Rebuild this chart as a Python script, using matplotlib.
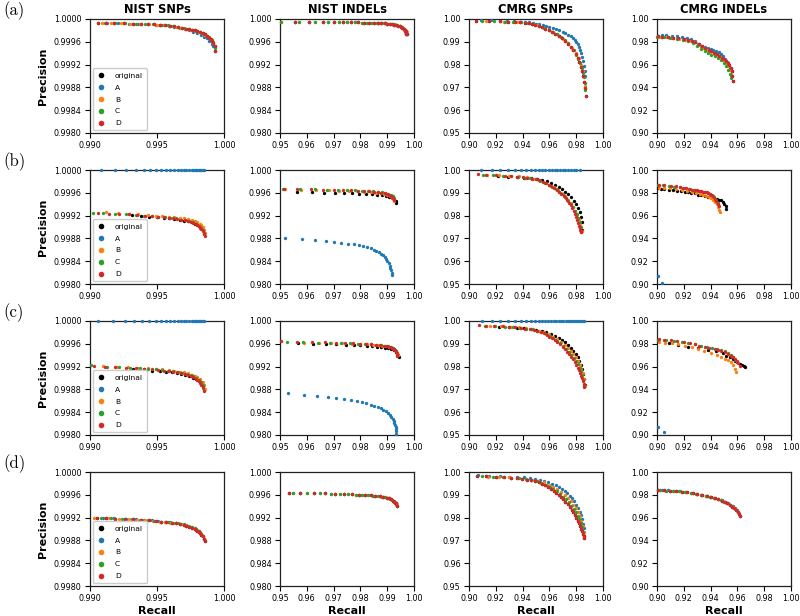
import matplotlib
matplotlib.use('Agg')
import numpy as np
import matplotlib.pyplot as plt
from matplotlib.lines import Line2D
from matplotlib.ticker import FormatStrFormatter

series_names = ['original', 'A', 'B', 'C', 'D']
series_colors = ['black', 'tab:blue', 'tab:orange', 'tab:green', 'tab:red']
column_titles = ['NIST SNPs', 'NIST INDELs', 'CMRG SNPs', 'CMRG INDELs']
row_labels = ['(a)', '(b)', '(c)', '(d)']

# ---------------- row (a) ----------------
a_nsnp_D_r = [0.9906, 0.9912, 0.9918, 0.9925, 0.9932, 0.9938, 0.9943, 0.9948, 0.9952, 0.9956, 0.9960, 0.9963, 0.9966, 0.9969, 0.9972, 0.9974, 0.9976, 0.9978, 0.9980, 0.9982, 0.9984, 0.9986, 0.9987, 0.9988, 0.9989, 0.9990, 0.9991, 0.9992, 0.9993, 0.99935]
a_nsnp_D_p = [0.99993, 0.99993, 0.99993, 0.99993, 0.99992, 0.99992, 0.99991, 0.99991, 0.99990, 0.99989, 0.99988, 0.99987, 0.99986, 0.99985, 0.99983, 0.99982, 0.99981, 0.99980, 0.99979, 0.99977, 0.99975, 0.99973, 0.99971, 0.99969, 0.99967, 0.99965, 0.99962, 0.99958, 0.99952, 0.99944]
a_nsnp_C_r = [0.9911, 0.9919, 0.9926, 0.9934, 0.9941, 0.9947, 0.9953, 0.9958, 0.9962, 0.9966, 0.9970, 0.9973, 0.9976, 0.9979, 0.9982, 0.9985, 0.9987, 0.9989, 0.9991, 0.9992, 0.9993]
a_nsnp_C_p = [0.99993, 0.99993, 0.99993, 0.99992, 0.99991, 0.99991, 0.99990, 0.99989, 0.99988, 0.99986, 0.99984, 0.99983, 0.99981, 0.99979, 0.99977, 0.99974, 0.99971, 0.99968, 0.99964, 0.99959, 0.99950]
a_nsnp_B_r = [0.9909, 0.9916, 0.9923, 0.9930, 0.9937, 0.9944, 0.9950, 0.9955, 0.9959, 0.9964, 0.9968, 0.9971, 0.9975, 0.9978, 0.9981, 0.9984, 0.9986, 0.9988, 0.9990, 0.9992]
a_nsnp_B_p = [0.99993, 0.99993, 0.99993, 0.99992, 0.99992, 0.99991, 0.99990, 0.99989, 0.99988, 0.99986, 0.99985, 0.99983, 0.99981, 0.99979, 0.99977, 0.99974, 0.99972, 0.99969, 0.99965, 0.99958]
a_nsnp_A_r = [0.9913, 0.9921, 0.9929, 0.9936, 0.9943, 0.9949, 0.9954, 0.9959, 0.9963, 0.9967, 0.9971, 0.9974, 0.9977, 0.9980, 0.9983, 0.9985, 0.9987, 0.9989, 0.9991, 0.9992, 0.9993]
a_nsnp_A_p = [0.99993, 0.99993, 0.99992, 0.99992, 0.99991, 0.99990, 0.99989, 0.99987, 0.99986, 0.99984, 0.99982, 0.99980, 0.99978, 0.99975, 0.99972, 0.99969, 0.99966, 0.99962, 0.99957, 0.99952, 0.99943]

a_nind_D_r = [0.9555, 0.9610, 0.9660, 0.9700, 0.9735, 0.9765, 0.9790, 0.9812, 0.9832, 0.9850, 0.9865, 0.9878, 0.9890, 0.9900, 0.9910, 0.9919, 0.9927, 0.9934, 0.9941, 0.9947, 0.9952, 0.9957, 0.9961, 0.9963, 0.9965, 0.9967, 0.9969, 0.9970, 0.9971, 0.9972, 0.9973]
a_nind_D_p = [0.99945, 0.99945, 0.99944, 0.99943, 0.99942, 0.99941, 0.99940, 0.99938, 0.99936, 0.99934, 0.99931, 0.99928, 0.99925, 0.99921, 0.99916, 0.99910, 0.99903, 0.99895, 0.99885, 0.99873, 0.99860, 0.99845, 0.99828, 0.99819, 0.99810, 0.99797, 0.99782, 0.99772, 0.99760, 0.99745, 0.99730]
a_nind_C_r = [0.9502, 0.9570, 0.9630, 0.9680, 0.9720, 0.9750, 0.9780, 0.9805, 0.9825, 0.9845, 0.9862, 0.9876, 0.9888, 0.9900, 0.9912, 0.9925, 0.9937, 0.9948, 0.9957, 0.9964, 0.9970]
a_nind_C_p = [0.99950, 0.99945, 0.99944, 0.99943, 0.99942, 0.99941, 0.99940, 0.99938, 0.99936, 0.99934, 0.99932, 0.99929, 0.99926, 0.99921, 0.99914, 0.99904, 0.99891, 0.99874, 0.99852, 0.99826, 0.99790]

a_csnp_D_r = [0.9055, 0.9150, 0.9230, 0.9290, 0.9340, 0.9380, 0.9415, 0.9445, 0.9470, 0.9495, 0.9520, 0.9545, 0.9570, 0.9595, 0.9620, 0.9645, 0.9670, 0.9695, 0.9720, 0.9740, 0.9760, 0.9778, 0.9795, 0.9810, 0.9823, 0.9835, 0.9845, 0.9853, 0.9860, 0.9865, 0.9870]
a_csnp_D_p = [0.9993, 0.9991, 0.9990, 0.9988, 0.9987, 0.9985, 0.9983, 0.9981, 0.9978, 0.9974, 0.9969, 0.9963, 0.9957, 0.9950, 0.9942, 0.9934, 0.9925, 0.9915, 0.9903, 0.9891, 0.9877, 0.9862, 0.9846, 0.9828, 0.9810, 0.9790, 0.9770, 0.9748, 0.9725, 0.9697, 0.9663]
a_csnp_C_r = [0.9095, 0.9190, 0.9270, 0.9330, 0.9390, 0.9440, 0.9485, 0.9525, 0.9560, 0.9595, 0.9630, 0.9660, 0.9690, 0.9715, 0.9740, 0.9762, 0.9782, 0.9800, 0.9815, 0.9828, 0.9840, 0.9850, 0.9858, 0.9865, 0.9869]
a_csnp_C_p = [0.9991, 0.9990, 0.9988, 0.9987, 0.9985, 0.9982, 0.9977, 0.9971, 0.9962, 0.9953, 0.9943, 0.9933, 0.9921, 0.9909, 0.9894, 0.9879, 0.9862, 0.9844, 0.9826, 0.9808, 0.9787, 0.9765, 0.9745, 0.9720, 0.9690]
a_csnp_B_r = [0.9125, 0.9260, 0.9360, 0.9440, 0.9510, 0.9570, 0.9620, 0.9665, 0.9705, 0.9740, 0.9770, 0.9795, 0.9818, 0.9838, 0.9853, 0.9865]
a_csnp_B_p = [0.9990, 0.9988, 0.9986, 0.9983, 0.9973, 0.9958, 0.9944, 0.9929, 0.9912, 0.9893, 0.9873, 0.9851, 0.9827, 0.9800, 0.9770, 0.9705]
a_csnp_A_r = [0.9090, 0.9165, 0.9230, 0.9285, 0.9335, 0.9380, 0.9415, 0.9445, 0.9475, 0.9500, 0.9525, 0.9550, 0.9575, 0.9600, 0.9625, 0.9650, 0.9675, 0.9700, 0.9720, 0.9740, 0.9760, 0.9775, 0.9790, 0.9800, 0.9810, 0.9820, 0.9828, 0.9836, 0.9843, 0.9850, 0.9856, 0.9862, 0.9866]
a_csnp_A_p = [0.9995, 0.9994, 0.9992, 0.9991, 0.9990, 0.9989, 0.9988, 0.9986, 0.9983, 0.9980, 0.9977, 0.9973, 0.9969, 0.9965, 0.9961, 0.9956, 0.9950, 0.9944, 0.9938, 0.9932, 0.9924, 0.9917, 0.9908, 0.9900, 0.9890, 0.9878, 0.9865, 0.9850, 0.9835, 0.9815, 0.9795, 0.9770, 0.9750]

a_cind_D_r = [0.9005, 0.9040, 0.9080, 0.9120, 0.9160, 0.9200, 0.9230, 0.9260, 0.9285, 0.9310, 0.9335, 0.9360, 0.9385, 0.9405, 0.9425, 0.9445, 0.9465, 0.9485, 0.9500, 0.9515, 0.9528, 0.9540, 0.9550, 0.9558, 0.9562, 0.9565]
a_cind_D_p = [0.9848, 0.9846, 0.9842, 0.9837, 0.9831, 0.9825, 0.9819, 0.9810, 0.9797, 0.9782, 0.9765, 0.9748, 0.9731, 0.9715, 0.9702, 0.9690, 0.9677, 0.9662, 0.9647, 0.9630, 0.9613, 0.9595, 0.9573, 0.9540, 0.9500, 0.9455]
a_cind_C_r = [0.9000, 0.9050, 0.9100, 0.9150, 0.9195, 0.9235, 0.9270, 0.9300, 0.9330, 0.9355, 0.9380, 0.9405, 0.9430, 0.9455, 0.9478, 0.9500, 0.9518, 0.9533, 0.9545, 0.9555]
a_cind_C_p = [0.9840, 0.9838, 0.9833, 0.9826, 0.9815, 0.9803, 0.9787, 0.9765, 0.9737, 0.9718, 0.9700, 0.9688, 0.9675, 0.9660, 0.9640, 0.9615, 0.9588, 0.9555, 0.9520, 0.9480]
a_cind_B_r = [0.9015, 0.9065, 0.9115, 0.9165, 0.9210, 0.9250, 0.9285, 0.9315, 0.9345, 0.9372, 0.9398, 0.9425, 0.9450, 0.9472, 0.9493, 0.9512, 0.9528, 0.9542, 0.9552]
a_cind_B_p = [0.9843, 0.9840, 0.9836, 0.9828, 0.9820, 0.9808, 0.9795, 0.9775, 0.9748, 0.9727, 0.9710, 0.9695, 0.9680, 0.9663, 0.9643, 0.9617, 0.9590, 0.9555, 0.9515]
a_cind_A_r = [0.9010, 0.9035, 0.9070, 0.9110, 0.9150, 0.9190, 0.9225, 0.9255, 0.9280, 0.9305, 0.9330, 0.9355, 0.9380, 0.9400, 0.9420, 0.9440, 0.9460, 0.9480, 0.9495, 0.9510, 0.9522, 0.9533, 0.9542, 0.9550]
a_cind_A_p = [0.9855, 0.9862, 0.9858, 0.9852, 0.9848, 0.9842, 0.9835, 0.9822, 0.9805, 0.9785, 0.9765, 0.9755, 0.9742, 0.9735, 0.9728, 0.9722, 0.9712, 0.9695, 0.9675, 0.9650, 0.9625, 0.9600, 0.9570, 0.9510]

# ---------------- row (b) ----------------
b_nsnp_O_r = [0.9931, 0.9938, 0.9944, 0.9950, 0.9955, 0.9959, 0.9963, 0.9967, 0.9970, 0.9973, 0.9976, 0.9978, 0.9980, 0.9982, 0.9984, 0.9985]
b_nsnp_O_p = [0.99921, 0.99920, 0.99918, 0.99917, 0.99916, 0.99915, 0.99914, 0.99913, 0.99911, 0.99910, 0.99908, 0.99906, 0.99903, 0.99900, 0.99895, 0.99888]
b_nsnp_A_r = [0.9908, 0.9919, 0.9927, 0.9934, 0.9940, 0.9945, 0.9949, 0.9953, 0.9957, 0.9960, 0.9963, 0.9966, 0.9968, 0.9970, 0.9972, 0.9974, 0.9976, 0.9977, 0.9978, 0.9979, 0.9980, 0.9981, 0.9982, 0.9983, 0.9984, 0.9985]
b_nsnp_A_p = [1.0, 1.0, 1.0, 1.0, 1.0, 1.0, 1.0, 1.0, 1.0, 1.0, 1.0, 1.0, 1.0, 1.0, 1.0, 1.0, 1.0, 1.0, 1.0, 1.0, 1.0, 1.0, 1.0, 1.0, 1.0, 1.0]
b_nsnp_B_r = [0.9912, 0.9921, 0.9929, 0.9936, 0.9943, 0.9949, 0.9954, 0.9959, 0.9963, 0.9967, 0.9970, 0.9973, 0.9976, 0.9978, 0.9980, 0.9982, 0.9983, 0.9984, 0.9985, 0.9986]
b_nsnp_B_p = [0.99926, 0.99924, 0.99923, 0.99922, 0.99921, 0.99920, 0.99919, 0.99918, 0.99917, 0.99916, 0.99915, 0.99914, 0.99913, 0.99911, 0.99909, 0.99906, 0.99903, 0.99900, 0.99895, 0.99889]
b_nsnp_C_r = [0.9902, 0.9910, 0.9919, 0.9927, 0.9934, 0.9940, 0.9946, 0.9951, 0.9956, 0.9960, 0.9964, 0.9968, 0.9971, 0.9974, 0.9977, 0.9979, 0.9981, 0.9983, 0.9984, 0.9985]
b_nsnp_C_p = [0.99925, 0.99924, 0.99923, 0.99922, 0.99921, 0.99920, 0.99919, 0.99918, 0.99917, 0.99916, 0.99915, 0.99913, 0.99912, 0.99910, 0.99908, 0.99905, 0.99902, 0.99898, 0.99894, 0.99888]
b_nsnp_D_r = [0.9906, 0.9914, 0.9922, 0.9929, 0.9935, 0.9941, 0.9946, 0.9951, 0.9955, 0.9959, 0.9962, 0.9965, 0.9968, 0.9971, 0.9973, 0.9975, 0.9977, 0.9979, 0.9980, 0.9981, 0.9982, 0.9983, 0.9984, 0.9985, 0.99855]
b_nsnp_D_p = [0.99924, 0.99923, 0.99922, 0.99922, 0.99921, 0.99920, 0.99919, 0.99918, 0.99917, 0.99916, 0.99915, 0.99914, 0.99913, 0.99912, 0.99910, 0.99909, 0.99907, 0.99905, 0.99903, 0.99901, 0.99899, 0.99896, 0.99893, 0.99889, 0.99884]

b_nind_O_r = [0.9565, 0.9620, 0.9665, 0.9705, 0.9740, 0.9770, 0.9796, 0.9820, 0.9842, 0.9862, 0.9880, 0.9895, 0.9908, 0.9918, 0.9926, 0.9931, 0.9934]
b_nind_O_p = [0.99615, 0.99610, 0.99605, 0.99600, 0.99595, 0.99590, 0.99585, 0.99579, 0.99572, 0.99563, 0.99553, 0.99541, 0.99526, 0.99506, 0.99480, 0.99450, 0.99420]
b_nind_A_r = [0.9519, 0.9581, 0.9629, 0.9670, 0.9700, 0.9728, 0.9754, 0.9775, 0.9794, 0.9810, 0.9825, 0.9838, 0.9850, 0.9860, 0.9869, 0.9877, 0.9884, 0.9890, 0.9896, 0.9901, 0.9905, 0.9909, 0.9912, 0.9915, 0.9917, 0.9919]
b_nind_A_p = [0.98810, 0.98785, 0.98765, 0.98750, 0.98735, 0.98720, 0.98708, 0.98693, 0.98680, 0.98665, 0.98645, 0.98625, 0.98605, 0.98585, 0.98560, 0.98535, 0.98505, 0.98475, 0.98440, 0.98400, 0.98360, 0.98320, 0.98280, 0.98240, 0.98200, 0.98160]
b_nind_B_r = [0.9520, 0.9580, 0.9635, 0.9682, 0.9722, 0.9758, 0.9788, 0.9815, 0.9838, 0.9858, 0.9875, 0.9889, 0.9901, 0.9911, 0.9919, 0.9925]
b_nind_B_p = [0.99660, 0.99655, 0.99650, 0.99645, 0.99640, 0.99634, 0.99628, 0.99621, 0.99613, 0.99604, 0.99593, 0.99580, 0.99563, 0.99540, 0.99512, 0.99460]
b_nind_C_r = [0.9512, 0.9575, 0.9630, 0.9675, 0.9715, 0.9750, 0.9780, 0.9805, 0.9828, 0.9848, 0.9865, 0.9880, 0.9893, 0.9904, 0.9913, 0.9920, 0.9925]
b_nind_C_p = [0.99670, 0.99665, 0.99660, 0.99655, 0.99651, 0.99646, 0.99641, 0.99636, 0.99630, 0.99623, 0.99615, 0.99606, 0.99595, 0.99580, 0.99562, 0.99540, 0.99505]
b_nind_D_r = [0.9515, 0.9562, 0.9615, 0.9660, 0.9700, 0.9735, 0.9765, 0.9790, 0.9812, 0.9832, 0.9850, 0.9865, 0.9878, 0.9890, 0.9900, 0.9908, 0.9914, 0.9919, 0.9923, 0.9926]
b_nind_D_p = [0.99665, 0.99662, 0.99660, 0.99657, 0.99653, 0.99649, 0.99645, 0.99640, 0.99635, 0.99629, 0.99622, 0.99614, 0.99605, 0.99595, 0.99582, 0.99567, 0.99550, 0.99530, 0.99505, 0.99470]

b_csnp_O_r = [0.9215, 0.9290, 0.9355, 0.9410, 0.9460, 0.9505, 0.9545, 0.9580, 0.9612, 0.9642, 0.9670, 0.9696, 0.9720, 0.9742, 0.9762, 0.9780, 0.9797, 0.9812, 0.9825, 0.9835, 0.9842, 0.9846]
b_csnp_O_p = [0.9974, 0.9971, 0.9969, 0.9967, 0.9964, 0.9960, 0.9955, 0.9950, 0.9943, 0.9935, 0.9926, 0.9916, 0.9905, 0.9893, 0.9880, 0.9866, 0.9851, 0.9834, 0.9816, 0.9795, 0.9770, 0.9735]
b_csnp_A_r = [0.9090, 0.9175, 0.9235, 0.9290, 0.9340, 0.9385, 0.9425, 0.9460, 0.9490, 0.9520, 0.9545, 0.9570, 0.9595, 0.9620, 0.9640, 0.9660, 0.9680, 0.9700, 0.9720, 0.9740, 0.9760, 0.9780, 0.9800, 0.9825]
b_csnp_A_p = [1.0, 1.0, 1.0, 1.0, 1.0, 1.0, 1.0, 1.0, 1.0, 1.0, 1.0, 1.0, 1.0, 1.0, 1.0, 1.0, 1.0, 1.0, 1.0, 1.0, 1.0, 1.0, 1.0, 1.0]
b_csnp_B_r = [0.9135, 0.9225, 0.9300, 0.9370, 0.9430, 0.9480, 0.9525, 0.9565, 0.9600, 0.9632, 0.9662, 0.9690, 0.9715, 0.9738, 0.9758, 0.9777, 0.9794, 0.9809, 0.9822, 0.9832, 0.9840]
b_csnp_B_p = [0.9979, 0.9977, 0.9975, 0.9972, 0.9968, 0.9962, 0.9955, 0.9945, 0.9935, 0.9924, 0.9912, 0.9899, 0.9885, 0.9870, 0.9855, 0.9839, 0.9822, 0.9803, 0.9783, 0.9760, 0.9732]
b_csnp_C_r = [0.9105, 0.9180, 0.9250, 0.9310, 0.9365, 0.9415, 0.9458, 0.9497, 0.9532, 0.9565, 0.9595, 0.9623, 0.9650, 0.9675, 0.9698, 0.9720, 0.9740, 0.9758, 0.9775, 0.9790, 0.9803, 0.9815, 0.9825, 0.9833, 0.9839]
b_csnp_C_p = [0.9979, 0.9977, 0.9975, 0.9972, 0.9970, 0.9967, 0.9963, 0.9959, 0.9952, 0.9944, 0.9935, 0.9926, 0.9915, 0.9904, 0.9893, 0.9880, 0.9866, 0.9852, 0.9837, 0.9821, 0.9805, 0.9788, 0.9770, 0.9750, 0.9728]
b_csnp_D_r = [0.9068, 0.9130, 0.9205, 0.9265, 0.9315, 0.9360, 0.9400, 0.9435, 0.9468, 0.9498, 0.9525, 0.9550, 0.9573, 0.9595, 0.9615, 0.9635, 0.9655, 0.9673, 0.9690, 0.9706, 0.9721, 0.9735, 0.9748, 0.9760, 0.9771, 0.9781, 0.9790, 0.9798, 0.9806, 0.9813, 0.9819, 0.9825, 0.9830, 0.9834, 0.9837]
b_csnp_D_p = [0.9982, 0.9978, 0.9976, 0.9974, 0.9972, 0.9970, 0.9968, 0.9965, 0.9962, 0.9959, 0.9954, 0.9948, 0.9942, 0.9935, 0.9928, 0.9921, 0.9913, 0.9905, 0.9896, 0.9887, 0.9877, 0.9867, 0.9856, 0.9845, 0.9833, 0.9821, 0.9808, 0.9795, 0.9782, 0.9769, 0.9756, 0.9745, 0.9737, 0.9731, 0.9727]

b_cind_O_r = [0.9005, 0.9030, 0.9055, 0.9090, 0.9120, 0.9150, 0.9180, 0.9210, 0.9235, 0.9255, 0.9280, 0.9305, 0.9330, 0.9355, 0.9380, 0.9405, 0.9425, 0.9445, 0.9460, 0.9475, 0.9490, 0.9502, 0.9512, 0.9518]
b_cind_O_p = [0.9838, 0.9836, 0.9830, 0.9827, 0.9824, 0.9820, 0.9815, 0.9810, 0.9805, 0.9800, 0.9794, 0.9785, 0.9777, 0.9770, 0.9765, 0.9760, 0.9755, 0.9748, 0.9741, 0.9733, 0.9720, 0.9703, 0.9683, 0.9662]
b_cind_A_r = [0.9005, 0.9040]
b_cind_A_p = [0.9074, 0.9009]
b_cind_B_r = [0.9012, 0.9050, 0.9095, 0.9140, 0.9185, 0.9225, 0.9260, 0.9290, 0.9320, 0.9345, 0.9368, 0.9388, 0.9405, 0.9420, 0.9433, 0.9445, 0.9455, 0.9462, 0.9468]
b_cind_B_p = [0.9844, 0.9843, 0.9838, 0.9832, 0.9825, 0.9817, 0.9808, 0.9800, 0.9792, 0.9784, 0.9776, 0.9767, 0.9755, 0.9740, 0.9722, 0.9700, 0.9677, 0.9652, 0.9630]
b_cind_C_r = [0.9005, 0.9045, 0.9090, 0.9130, 0.9175, 0.9210, 0.9245, 0.9275, 0.9305, 0.9330, 0.9355, 0.9378, 0.9398, 0.9410, 0.9425, 0.9440, 0.9452]
b_cind_C_p = [0.9866, 0.9866, 0.9860, 0.9855, 0.9847, 0.9838, 0.9830, 0.9824, 0.9818, 0.9813, 0.9806, 0.9798, 0.9790, 0.9782, 0.9760, 0.9735, 0.9708]
b_cind_D_r = [0.9012, 0.9055, 0.9105, 0.9140, 0.9168, 0.9195, 0.9218, 0.9240, 0.9262, 0.9280, 0.9298, 0.9315, 0.9330, 0.9345, 0.9360, 0.9372, 0.9383, 0.9395, 0.9405, 0.9418, 0.9430, 0.9443, 0.9452, 0.9460]
b_cind_D_p = [0.9868, 0.9870, 0.9862, 0.9857, 0.9853, 0.9846, 0.9838, 0.9833, 0.9828, 0.9824, 0.9821, 0.9818, 0.9815, 0.9811, 0.9807, 0.9803, 0.9799, 0.9793, 0.9785, 0.9768, 0.9748, 0.9725, 0.9705, 0.9688]

# ---------------- row (c) ----------------
c_nsnp_O_r = [0.9932, 0.9940, 0.9946, 0.9952, 0.9957, 0.9961, 0.9965, 0.9968, 0.9971, 0.9974, 0.9977, 0.9979, 0.9981, 0.9983, 0.9984, 0.9985]
c_nsnp_O_p = [0.99916, 0.99915, 0.99913, 0.99912, 0.99911, 0.99910, 0.99908, 0.99907, 0.99905, 0.99903, 0.99900, 0.99898, 0.99895, 0.99891, 0.99887, 0.99881]
c_nsnp_A_r = [0.9906, 0.9917, 0.9926, 0.9933, 0.9939, 0.9944, 0.9949, 0.9953, 0.9957, 0.9960, 0.9963, 0.9966, 0.9968, 0.9970, 0.9972, 0.9974, 0.9976, 0.9977, 0.9978, 0.9979, 0.9980, 0.9981, 0.9982, 0.9983, 0.9984, 0.9985]
c_nsnp_A_p = [1.0, 1.0, 1.0, 1.0, 1.0, 1.0, 1.0, 1.0, 1.0, 1.0, 1.0, 1.0, 1.0, 1.0, 1.0, 1.0, 1.0, 1.0, 1.0, 1.0, 1.0, 1.0, 1.0, 1.0, 1.0, 1.0]
c_nsnp_B_r = [0.9910, 0.9920, 0.9928, 0.9936, 0.9943, 0.9949, 0.9954, 0.9959, 0.9963, 0.9967, 0.9970, 0.9973, 0.9976, 0.9978, 0.9980, 0.9982, 0.9984, 0.9985, 0.99855]
c_nsnp_B_p = [0.99921, 0.99920, 0.99919, 0.99918, 0.99917, 0.99916, 0.99915, 0.99914, 0.99913, 0.99911, 0.99910, 0.99908, 0.99906, 0.99904, 0.99901, 0.99898, 0.99893, 0.99887, 0.99880]
c_nsnp_C_r = [0.9901, 0.9913, 0.9922, 0.9930, 0.9937, 0.9943, 0.9949, 0.9954, 0.9958, 0.9962, 0.9966, 0.9969, 0.9972, 0.9975, 0.9977, 0.9979, 0.9981, 0.9983, 0.9984, 0.99845]
c_nsnp_C_p = [0.99922, 0.99920, 0.99919, 0.99918, 0.99917, 0.99916, 0.99915, 0.99914, 0.99913, 0.99912, 0.99910, 0.99909, 0.99907, 0.99905, 0.99903, 0.99900, 0.99897, 0.99893, 0.99888, 0.99882]
c_nsnp_D_r = [0.9903, 0.9911, 0.9919, 0.9927, 0.9934, 0.9940, 0.9946, 0.9951, 0.9955, 0.9959, 0.9962, 0.9965, 0.9968, 0.9971, 0.9973, 0.9975, 0.9977, 0.9979, 0.9980, 0.9981, 0.9982, 0.9983, 0.9984, 0.9985]
c_nsnp_D_p = [0.99921, 0.99920, 0.99919, 0.99918, 0.99917, 0.99916, 0.99915, 0.99914, 0.99913, 0.99912, 0.99911, 0.99910, 0.99908, 0.99907, 0.99905, 0.99903, 0.99901, 0.99898, 0.99896, 0.99894, 0.99891, 0.99888, 0.99884, 0.99878]

c_nind_O_r = [0.9569, 0.9622, 0.9670, 0.9710, 0.9745, 0.9775, 0.9800, 0.9823, 0.9844, 0.9862, 0.9878, 0.9892, 0.9904, 0.9915, 0.9924, 0.9931, 0.9937, 0.9941, 0.9944]
c_nind_O_p = [0.99610, 0.99602, 0.99596, 0.99590, 0.99584, 0.99578, 0.99572, 0.99565, 0.99558, 0.99550, 0.99541, 0.99531, 0.99519, 0.99505, 0.99487, 0.99463, 0.99432, 0.99400, 0.99365]
c_nind_A_r = [0.9530, 0.9588, 0.9638, 0.9678, 0.9710, 0.9740, 0.9765, 0.9788, 0.9806, 0.9822, 0.9838, 0.9852, 0.9864, 0.9875, 0.9885, 0.9894, 0.9902, 0.9909, 0.9915, 0.9920, 0.9924, 0.9927, 0.9929, 0.9931, 0.9932, 0.9933, 0.9934]
c_nind_A_p = [0.98735, 0.98705, 0.98682, 0.98663, 0.98645, 0.98625, 0.98608, 0.98590, 0.98572, 0.98553, 0.98532, 0.98512, 0.98490, 0.98468, 0.98445, 0.98418, 0.98385, 0.98350, 0.98312, 0.98275, 0.98240, 0.98205, 0.98170, 0.98135, 0.98100, 0.98065, 0.98020]
c_nind_B_r = [0.9590, 0.9645, 0.9692, 0.9733, 0.9768, 0.9798, 0.9824, 0.9847, 0.9866, 0.9882, 0.9896, 0.9908, 0.9918, 0.9926, 0.9932, 0.9937, 0.9940]
c_nind_B_p = [0.99618, 0.99614, 0.99610, 0.99606, 0.99601, 0.99596, 0.99590, 0.99583, 0.99575, 0.99566, 0.99555, 0.99542, 0.99525, 0.99505, 0.99478, 0.99440, 0.99395]
c_nind_C_r = [0.9525, 0.9585, 0.9640, 0.9688, 0.9728, 0.9762, 0.9792, 0.9818, 0.9840, 0.9860, 0.9877, 0.9892, 0.9904, 0.9914, 0.9922, 0.9929, 0.9934, 0.9937]
c_nind_C_p = [0.99632, 0.99627, 0.99622, 0.99617, 0.99612, 0.99607, 0.99602, 0.99597, 0.99591, 0.99584, 0.99576, 0.99566, 0.99554, 0.99540, 0.99522, 0.99498, 0.99465, 0.99420]
c_nind_D_r = [0.9504, 0.9562, 0.9620, 0.9668, 0.9708, 0.9742, 0.9772, 0.9798, 0.9820, 0.9840, 0.9858, 0.9873, 0.9887, 0.9899, 0.9909, 0.9917, 0.9924, 0.9929, 0.9933, 0.9936, 0.9938]
c_nind_D_p = [0.99641, 0.99635, 0.99630, 0.99625, 0.99620, 0.99615, 0.99610, 0.99605, 0.99599, 0.99593, 0.99586, 0.99578, 0.99569, 0.99558, 0.99545, 0.99530, 0.99510, 0.99485, 0.99455, 0.99420, 0.99380]

c_csnp_O_r = [0.9225, 0.9295, 0.9358, 0.9412, 0.9460, 0.9503, 0.9542, 0.9578, 0.9610, 0.9640, 0.9668, 0.9694, 0.9718, 0.9740, 0.9760, 0.9779, 0.9796, 0.9811, 0.9824, 0.9836, 0.9846, 0.9854, 0.9860, 0.9864]
c_csnp_O_p = [0.9975, 0.9972, 0.9970, 0.9968, 0.9965, 0.9962, 0.9957, 0.9951, 0.9944, 0.9936, 0.9927, 0.9917, 0.9907, 0.9895, 0.9882, 0.9869, 0.9855, 0.9840, 0.9825, 0.9808, 0.9790, 0.9768, 0.9745, 0.9718]
c_csnp_A_r = [0.9100, 0.9170, 0.9235, 0.9290, 0.9340, 0.9385, 0.9425, 0.9460, 0.9492, 0.9520, 0.9546, 0.9570, 0.9592, 0.9613, 0.9633, 0.9652, 0.9670, 0.9688, 0.9705, 0.9722, 0.9738, 0.9754, 0.9770, 0.9785, 0.9800, 0.9815, 0.9830, 0.9845, 0.9860]
c_csnp_A_p = [1.0, 1.0, 1.0, 1.0, 1.0, 1.0, 1.0, 1.0, 1.0, 1.0, 1.0, 1.0, 1.0, 1.0, 1.0, 1.0, 1.0, 1.0, 1.0, 1.0, 1.0, 1.0, 1.0, 1.0, 1.0, 1.0, 1.0, 1.0, 1.0]
c_csnp_B_r = [0.9160, 0.9240, 0.9310, 0.9370, 0.9425, 0.9475, 0.9520, 0.9560, 0.9597, 0.9630, 0.9660, 0.9688, 0.9713, 0.9736, 0.9758, 0.9778, 0.9796, 0.9812, 0.9826, 0.9838, 0.9848, 0.9856, 0.9862]
c_csnp_B_p = [0.9978, 0.9976, 0.9974, 0.9972, 0.9968, 0.9964, 0.9958, 0.9950, 0.9941, 0.9931, 0.9920, 0.9908, 0.9896, 0.9883, 0.9869, 0.9855, 0.9840, 0.9825, 0.9808, 0.9790, 0.9770, 0.9745, 0.9715]
c_csnp_C_r = [0.9120, 0.9195, 0.9265, 0.9325, 0.9378, 0.9425, 0.9467, 0.9505, 0.9540, 0.9572, 0.9602, 0.9630, 0.9656, 0.9680, 0.9703, 0.9725, 0.9745, 0.9764, 0.9782, 0.9798, 0.9812, 0.9825, 0.9836, 0.9845, 0.9852, 0.9858]
c_csnp_C_p = [0.9979, 0.9977, 0.9975, 0.9973, 0.9970, 0.9967, 0.9963, 0.9958, 0.9951, 0.9943, 0.9934, 0.9924, 0.9914, 0.9903, 0.9891, 0.9879, 0.9866, 0.9852, 0.9838, 0.9824, 0.9810, 0.9795, 0.9779, 0.9762, 0.9740, 0.9715]
c_csnp_D_r = [0.9075, 0.9130, 0.9190, 0.9250, 0.9300, 0.9345, 0.9385, 0.9420, 0.9452, 0.9482, 0.9510, 0.9535, 0.9558, 0.9580, 0.9600, 0.9620, 0.9640, 0.9660, 0.9680, 0.9698, 0.9715, 0.9732, 0.9748, 0.9762, 0.9775, 0.9788, 0.9800, 0.9811, 0.9821, 0.9830, 0.9838, 0.9845, 0.9851, 0.9856, 0.9860]
c_csnp_D_p = [0.9984, 0.9979, 0.9978, 0.9976, 0.9974, 0.9972, 0.9970, 0.9967, 0.9964, 0.9961, 0.9957, 0.9952, 0.9946, 0.9940, 0.9932, 0.9925, 0.9917, 0.9908, 0.9898, 0.9888, 0.9877, 0.9866, 0.9855, 0.9843, 0.9832, 0.9820, 0.9808, 0.9796, 0.9784, 0.9772, 0.9760, 0.9748, 0.9736, 0.9724, 0.9711]

c_cind_O_r = [0.9093, 0.9155, 0.9230, 0.9305, 0.9380, 0.9443, 0.9490, 0.9518, 0.9545, 0.9565, 0.9580, 0.9600, 0.9618, 0.9635, 0.9648, 0.9655]
c_cind_O_p = [0.9806, 0.9791, 0.9776, 0.9762, 0.9750, 0.9735, 0.9718, 0.9697, 0.9682, 0.9668, 0.9653, 0.9640, 0.9624, 0.9612, 0.9602, 0.9594]
c_cind_A_r = [0.9010, 0.9055]
c_cind_A_p = [0.9068, 0.9027]
c_cind_B_r = [0.9012, 0.9060, 0.9110, 0.9160, 0.9210, 0.9258, 0.9305, 0.9350, 0.9405, 0.9445, 0.9480, 0.9505, 0.9530, 0.9550, 0.9568, 0.9582, 0.9593]
c_cind_B_p = [0.9815, 0.9811, 0.9805, 0.9795, 0.9782, 0.9768, 0.9752, 0.9735, 0.9717, 0.9700, 0.9682, 0.9670, 0.9659, 0.9638, 0.9610, 0.9580, 0.9550]
c_cind_C_r = [0.9005, 0.9070, 0.9130, 0.9185, 0.9235, 0.9280, 0.9325, 0.9370, 0.9410, 0.9445, 0.9475, 0.9505, 0.9530, 0.9552, 0.9570, 0.9585, 0.9598]
c_cind_C_p = [0.9832, 0.9830, 0.9826, 0.9820, 0.9810, 0.9797, 0.9784, 0.9772, 0.9762, 0.9752, 0.9744, 0.9735, 0.9718, 0.9700, 0.9682, 0.9662, 0.9640]
c_cind_D_r = [0.9012, 0.9055, 0.9105, 0.9150, 0.9205, 0.9245, 0.9280, 0.9315, 0.9355, 0.9390, 0.9430, 0.9455, 0.9480, 0.9505, 0.9530, 0.9550, 0.9568, 0.9582, 0.9595, 0.9607, 0.9618]
c_cind_D_p = [0.9841, 0.9837, 0.9833, 0.9827, 0.9818, 0.9806, 0.9794, 0.9785, 0.9776, 0.9766, 0.9755, 0.9748, 0.9740, 0.9727, 0.9711, 0.9697, 0.9682, 0.9668, 0.9653, 0.9632, 0.9609]

# ---------------- row (d) ----------------
d_nsnp_A_r = [0.9910, 0.9918, 0.9927, 0.9934, 0.9940, 0.9946, 0.9951, 0.9956, 0.9960, 0.9964, 0.9968, 0.9972, 0.9975, 0.9978, 0.9981, 0.9983, 0.9985]
d_nsnp_A_p = [0.99920, 0.99919, 0.99918, 0.99917, 0.99916, 0.99915, 0.99914, 0.99913, 0.99912, 0.99911, 0.99909, 0.99907, 0.99904, 0.99901, 0.99897, 0.99891, 0.99882]
d_nsnp_B_r = [0.9903, 0.9914, 0.9922, 0.9929, 0.9935, 0.9941, 0.9947, 0.9952, 0.9956, 0.9960, 0.9964, 0.9968, 0.9971, 0.9974, 0.9977, 0.9980, 0.9982, 0.9984, 0.9985]
d_nsnp_B_p = [0.99920, 0.99919, 0.99918, 0.99917, 0.99916, 0.99915, 0.99914, 0.99913, 0.99912, 0.99911, 0.99910, 0.99909, 0.99907, 0.99905, 0.99902, 0.99898, 0.99894, 0.99888, 0.99882]
d_nsnp_C_r = [0.9908, 0.9916, 0.9924, 0.9931, 0.9937, 0.9943, 0.9948, 0.9953, 0.9958, 0.9962, 0.9966, 0.9970, 0.9973, 0.9976, 0.9979, 0.9981, 0.9983, 0.9985]
d_nsnp_C_p = [0.99920, 0.99919, 0.99918, 0.99917, 0.99916, 0.99915, 0.99914, 0.99913, 0.99912, 0.99911, 0.99910, 0.99908, 0.99906, 0.99903, 0.99900, 0.99896, 0.99891, 0.99882]
d_nsnp_D_r = [0.9905, 0.9912, 0.9919, 0.9926, 0.9932, 0.9938, 0.9944, 0.9949, 0.9953, 0.9957, 0.9961, 0.9964, 0.9967, 0.9970, 0.9972, 0.9974, 0.9976, 0.9978, 0.9979, 0.9980, 0.9981, 0.9982, 0.9983, 0.9984, 0.9985, 0.99855]
d_nsnp_D_p = [0.99920, 0.99919, 0.99918, 0.99918, 0.99917, 0.99916, 0.99915, 0.99914, 0.99913, 0.99912, 0.99911, 0.99910, 0.99909, 0.99907, 0.99906, 0.99904, 0.99902, 0.99900, 0.99898, 0.99897, 0.99895, 0.99893, 0.99890, 0.99887, 0.99883, 0.99879]

d_nind_C_r = [0.9550, 0.9600, 0.9650, 0.9690, 0.9725, 0.9755, 0.9782, 0.9806, 0.9828, 0.9847, 0.9864, 0.9879, 0.9892, 0.9903, 0.9912, 0.9919, 0.9925, 0.9930, 0.9933]
d_nind_C_p = [0.99634, 0.99630, 0.99625, 0.99620, 0.99616, 0.99611, 0.99605, 0.99599, 0.99593, 0.99585, 0.99577, 0.99567, 0.99556, 0.99543, 0.99528, 0.99510, 0.99488, 0.99462, 0.99430]
d_nind_D_r = [0.9535, 0.9575, 0.9625, 0.9668, 0.9705, 0.9738, 0.9768, 0.9794, 0.9817, 0.9838, 0.9856, 0.9872, 0.9886, 0.9898, 0.9908, 0.9916, 0.9922, 0.9927, 0.9931, 0.9934, 0.9936]
d_nind_D_p = [0.99635, 0.99632, 0.99628, 0.99623, 0.99618, 0.99613, 0.99608, 0.99602, 0.99596, 0.99589, 0.99581, 0.99572, 0.99562, 0.99550, 0.99536, 0.99519, 0.99500, 0.99478, 0.99455, 0.99430, 0.99405]

d_csnp_A_r = [0.9070, 0.9150, 0.9230, 0.9300, 0.9360, 0.9410, 0.9455, 0.9495, 0.9530, 0.9562, 0.9592, 0.9620, 0.9646, 0.9670, 0.9692, 0.9713, 0.9733, 0.9752, 0.9770, 0.9787, 0.9802, 0.9816, 0.9828, 0.9838, 0.9846, 0.9852, 0.9856]
d_csnp_A_p = [0.9985, 0.9983, 0.9982, 0.9980, 0.9978, 0.9976, 0.9973, 0.9970, 0.9966, 0.9961, 0.9955, 0.9949, 0.9942, 0.9934, 0.9926, 0.9917, 0.9907, 0.9896, 0.9884, 0.9871, 0.9857, 0.9842, 0.9826, 0.9810, 0.9792, 0.9773, 0.9755]
d_csnp_B_r = [0.9140, 0.9225, 0.9300, 0.9365, 0.9422, 0.9472, 0.9517, 0.9557, 0.9594, 0.9628, 0.9659, 0.9687, 0.9713, 0.9737, 0.9759, 0.9779, 0.9797, 0.9813, 0.9827, 0.9839, 0.9849, 0.9857]
d_csnp_B_p = [0.9980, 0.9978, 0.9976, 0.9973, 0.9970, 0.9966, 0.9961, 0.9954, 0.9945, 0.9935, 0.9924, 0.9912, 0.9899, 0.9885, 0.9871, 0.9856, 0.9840, 0.9823, 0.9805, 0.9786, 0.9763, 0.9735]
d_csnp_C_r = [0.9100, 0.9180, 0.9250, 0.9315, 0.9372, 0.9422, 0.9466, 0.9505, 0.9540, 0.9572, 0.9602, 0.9630, 0.9656, 0.9680, 0.9703, 0.9724, 0.9744, 0.9763, 0.9780, 0.9796, 0.9810, 0.9823, 0.9834, 0.9843, 0.9851, 0.9857]
d_csnp_C_p = [0.9981, 0.9979, 0.9977, 0.9975, 0.9972, 0.9969, 0.9965, 0.9960, 0.9953, 0.9945, 0.9936, 0.9926, 0.9915, 0.9904, 0.9892, 0.9880, 0.9867, 0.9853, 0.9839, 0.9824, 0.9809, 0.9793, 0.9776, 0.9758, 0.9738, 0.9715]
d_csnp_D_r = [0.9060, 0.9130, 0.9200, 0.9260, 0.9310, 0.9355, 0.9395, 0.9430, 0.9462, 0.9492, 0.9520, 0.9545, 0.9568, 0.9590, 0.9611, 0.9631, 0.9650, 0.9668, 0.9686, 0.9703, 0.9720, 0.9736, 0.9751, 0.9765, 0.9778, 0.9790, 0.9801, 0.9812, 0.9822, 0.9831, 0.9839, 0.9846, 0.9852, 0.9857, 0.9861]
d_csnp_D_p = [0.9983, 0.9981, 0.9979, 0.9977, 0.9975, 0.9973, 0.9970, 0.9967, 0.9963, 0.9959, 0.9954, 0.9948, 0.9941, 0.9934, 0.9926, 0.9918, 0.9909, 0.9900, 0.9890, 0.9880, 0.9869, 0.9858, 0.9847, 0.9835, 0.9823, 0.9811, 0.9799, 0.9787, 0.9775, 0.9763, 0.9751, 0.9740, 0.9729, 0.9719, 0.9709]

d_cind_A_r = [0.9005, 0.9040, 0.9085, 0.9130, 0.9175, 0.9218, 0.9258, 0.9295, 0.9330, 0.9365, 0.9398, 0.9428, 0.9456, 0.9482, 0.9506, 0.9528, 0.9548, 0.9566, 0.9582, 0.9595]
d_cind_A_p = [0.9843, 0.9841, 0.9838, 0.9834, 0.9829, 0.9824, 0.9818, 0.9810, 0.9801, 0.9792, 0.9783, 0.9774, 0.9764, 0.9753, 0.9741, 0.9728, 0.9714, 0.9699, 0.9684, 0.9668]
d_cind_C_r = [0.9020, 0.9070, 0.9120, 0.9165, 0.9210, 0.9250, 0.9290, 0.9328, 0.9362, 0.9395, 0.9425, 0.9452, 0.9478, 0.9502, 0.9524, 0.9544, 0.9562, 0.9578, 0.9592, 0.9604]
d_cind_C_p = [0.9838, 0.9836, 0.9833, 0.9829, 0.9824, 0.9818, 0.9810, 0.9801, 0.9792, 0.9782, 0.9773, 0.9763, 0.9752, 0.9740, 0.9727, 0.9713, 0.9698, 0.9682, 0.9665, 0.9648]
d_cind_D_r = [0.9010, 0.9050, 0.9095, 0.9140, 0.9185, 0.9225, 0.9265, 0.9300, 0.9335, 0.9370, 0.9400, 0.9430, 0.9458, 0.9483, 0.9505, 0.9525, 0.9545, 0.9562, 0.9578, 0.9592, 0.9604, 0.9614, 0.9621]
d_cind_D_p = [0.9840, 0.9838, 0.9836, 0.9832, 0.9828, 0.9822, 0.9815, 0.9806, 0.9797, 0.9788, 0.9779, 0.9770, 0.9760, 0.9749, 0.9737, 0.9725, 0.9711, 0.9697, 0.9682, 0.9666, 0.9648, 0.9630, 0.9610]


# series per panel, in drawing order: original, A, B, C, D
# (where the original curve is fully covered by D in the source, it reuses D's points)
panels = [
    [
        [(a_nsnp_D_r, a_nsnp_D_p), (a_nsnp_A_r, a_nsnp_A_p), (a_nsnp_B_r, a_nsnp_B_p), (a_nsnp_C_r, a_nsnp_C_p), (a_nsnp_D_r, a_nsnp_D_p)],
        [(a_nind_D_r, a_nind_D_p), (a_nind_D_r, a_nind_D_p), (a_nind_C_r, a_nind_C_p), (a_nind_C_r, a_nind_C_p), (a_nind_D_r, a_nind_D_p)],
        [(a_csnp_D_r, a_csnp_D_p), (a_csnp_A_r, a_csnp_A_p), (a_csnp_B_r, a_csnp_B_p), (a_csnp_C_r, a_csnp_C_p), (a_csnp_D_r, a_csnp_D_p)],
        [(a_cind_D_r, a_cind_D_p), (a_cind_A_r, a_cind_A_p), (a_cind_B_r, a_cind_B_p), (a_cind_C_r, a_cind_C_p), (a_cind_D_r, a_cind_D_p)],
    ],
    [
        [(b_nsnp_O_r, b_nsnp_O_p), (b_nsnp_A_r, b_nsnp_A_p), (b_nsnp_B_r, b_nsnp_B_p), (b_nsnp_C_r, b_nsnp_C_p), (b_nsnp_D_r, b_nsnp_D_p)],
        [(b_nind_O_r, b_nind_O_p), (b_nind_A_r, b_nind_A_p), (b_nind_B_r, b_nind_B_p), (b_nind_C_r, b_nind_C_p), (b_nind_D_r, b_nind_D_p)],
        [(b_csnp_O_r, b_csnp_O_p), (b_csnp_A_r, b_csnp_A_p), (b_csnp_B_r, b_csnp_B_p), (b_csnp_C_r, b_csnp_C_p), (b_csnp_D_r, b_csnp_D_p)],
        [(b_cind_O_r, b_cind_O_p), (b_cind_A_r, b_cind_A_p), (b_cind_B_r, b_cind_B_p), (b_cind_C_r, b_cind_C_p), (b_cind_D_r, b_cind_D_p)],
    ],
    [
        [(c_nsnp_O_r, c_nsnp_O_p), (c_nsnp_A_r, c_nsnp_A_p), (c_nsnp_B_r, c_nsnp_B_p), (c_nsnp_C_r, c_nsnp_C_p), (c_nsnp_D_r, c_nsnp_D_p)],
        [(c_nind_O_r, c_nind_O_p), (c_nind_A_r, c_nind_A_p), (c_nind_B_r, c_nind_B_p), (c_nind_C_r, c_nind_C_p), (c_nind_D_r, c_nind_D_p)],
        [(c_csnp_O_r, c_csnp_O_p), (c_csnp_A_r, c_csnp_A_p), (c_csnp_B_r, c_csnp_B_p), (c_csnp_C_r, c_csnp_C_p), (c_csnp_D_r, c_csnp_D_p)],
        [(c_cind_O_r, c_cind_O_p), (c_cind_A_r, c_cind_A_p), (c_cind_B_r, c_cind_B_p), (c_cind_C_r, c_cind_C_p), (c_cind_D_r, c_cind_D_p)],
    ],
    [
        [(d_nsnp_D_r, d_nsnp_D_p), (d_nsnp_A_r, d_nsnp_A_p), (d_nsnp_B_r, d_nsnp_B_p), (d_nsnp_C_r, d_nsnp_C_p), (d_nsnp_D_r, d_nsnp_D_p)],
        [(d_nind_D_r, d_nind_D_p), (d_nind_D_r, d_nind_D_p), (d_nind_C_r, d_nind_C_p), (d_nind_C_r, d_nind_C_p), (d_nind_D_r, d_nind_D_p)],
        [(d_csnp_D_r, d_csnp_D_p), (d_csnp_A_r, d_csnp_A_p), (d_csnp_B_r, d_csnp_B_p), (d_csnp_C_r, d_csnp_C_p), (d_csnp_D_r, d_csnp_D_p)],
        [(d_cind_D_r, d_cind_D_p), (d_cind_A_r, d_cind_A_p), (d_cind_C_r, d_cind_C_p), (d_cind_C_r, d_cind_C_p), (d_cind_D_r, d_cind_D_p)],
    ],
]

# axis setup per column
col_xlim = [(0.990, 1.000), (0.95, 1.00), (0.90, 1.00), (0.90, 1.00)]
col_xn = [3, 6, 6, 6]
col_ylim = [(0.998, 1.000), (0.980, 1.000), (0.95, 1.00), (0.90, 1.00)]
col_yn = [6, 6, 6, 6]
col_xfmt = ['%.3f', '%.2f', '%.2f', '%.2f']
col_yfmt = ['%.4f', '%.3f', '%.2f', '%.2f']

W, H = 800, 616
col_left = [90, 280, 469, 657]
row_top = [19, 170, 321, 472]
ax_w, ax_h = 134, 114


def setup_axis(ax, col):
    ax.set_xlim(*col_xlim[col])
    ax.set_ylim(*col_ylim[col])
    ax.set_xticks(np.linspace(col_xlim[col][0], col_xlim[col][1], col_xn[col]))
    ax.set_yticks(np.linspace(col_ylim[col][0], col_ylim[col][1], col_yn[col]))
    ax.xaxis.set_major_formatter(FormatStrFormatter(col_xfmt[col]))
    ax.yaxis.set_major_formatter(FormatStrFormatter(col_yfmt[col]))
    ax.tick_params(labelsize=5.8, length=3.5, width=0.8, pad=2.5)
    for sp in ax.spines.values():
        sp.set_linewidth(0.9)
        sp.set_color('#222222')


def main():
    fig = plt.figure(figsize=(W / 100, H / 100), dpi=100)
    for row in range(4):
        for col in range(4):
            rect = [col_left[col] / W, 1 - (row_top[row] + ax_h) / H, ax_w / W, ax_h / H]
            ax = fig.add_axes(rect)
            setup_axis(ax, col)
            for (r, p), color in zip(panels[row][col], series_colors):
                ax.plot(r, p, ls='none', marker='o', markersize=2.4,
                        markeredgewidth=0, color=color, clip_on=False, zorder=3)
            if row == 0:
                ax.set_title(column_titles[col], fontsize=8.3, fontweight='bold', pad=4)
            if row == 3:
                ax.set_xlabel('Recall', fontsize=8, fontweight='bold', labelpad=2)
            if col == 0:
                ax.set_ylabel('Precision', fontsize=8, fontweight='bold', labelpad=4)
                handles = [Line2D([], [], ls='none', marker='o', markersize=4,
                                  markeredgewidth=0, color=c) for c in series_colors]
                ax.legend(handles, series_names, loc='lower left', fontsize=5.4,
                          handlelength=1.2, handletextpad=1.2, labelspacing=0.75,
                          borderpad=0.55, borderaxespad=0.35, framealpha=1,
                          edgecolor='#cccccc', fancybox=True)
        fig.text(3 / W, 1 - (row_top[row] - 8) / H, row_labels[row], family='cmr10',
                 fontsize=12, ha='left', va='center')
    fig.savefig('out.png', dpi=100)


if __name__ == '__main__':
    main()
